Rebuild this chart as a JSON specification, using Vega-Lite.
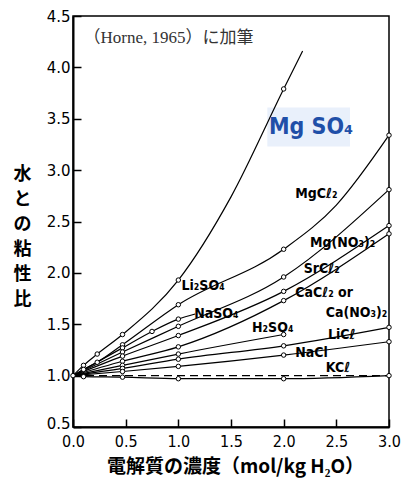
{
  "$schema": "https://vega.github.io/schema/vega-lite/v6.json",
  "width": 316,
  "height": 411,
  "autosize": "none",
  "padding": {"left": 73, "top": 16, "right": 26, "bottom": 56},
  "background": "white",
  "config": {
    "view": {"stroke": "black", "strokeWidth": 1.5},
    "axis": {"grid": false}
  },
  "datasets": {
    "curves": [
      {"series": "MgSO4", "x": 0, "y": 1.0, "pt": true},
      {"series": "MgSO4", "x": 0.1, "y": 1.10, "pt": true},
      {"series": "MgSO4", "x": 0.23, "y": 1.21, "pt": true},
      {"series": "MgSO4", "x": 0.47, "y": 1.40, "pt": true},
      {"series": "MgSO4", "x": 1.0, "y": 1.93, "pt": true},
      {"series": "MgSO4", "x": 1.5, "y": 2.74, "pt": false},
      {"series": "MgSO4", "x": 2.0, "y": 3.79, "pt": true},
      {"series": "MgSO4", "x": 2.18, "y": 4.16, "pt": false},
      {"series": "MgCl2", "x": 0, "y": 1.0, "pt": false},
      {"series": "MgCl2", "x": 0.1, "y": 1.06, "pt": true},
      {"series": "MgCl2", "x": 0.23, "y": 1.13, "pt": true},
      {"series": "MgCl2", "x": 0.47, "y": 1.30, "pt": true},
      {"series": "MgCl2", "x": 1.0, "y": 1.69, "pt": true},
      {"series": "MgCl2", "x": 2.0, "y": 2.23, "pt": true},
      {"series": "MgCl2", "x": 2.5, "y": 2.66, "pt": false},
      {"series": "MgCl2", "x": 3.0, "y": 3.34, "pt": true},
      {"series": "Na2SO4", "x": 0, "y": 1.0, "pt": false},
      {"series": "Na2SO4", "x": 0.47, "y": 1.27, "pt": true},
      {"series": "Na2SO4", "x": 0.75, "y": 1.43, "pt": true},
      {"series": "Na2SO4", "x": 1.0, "y": 1.55, "pt": true},
      {"series": "Na2SO4", "x": 1.16, "y": 1.60, "pt": false},
      {"series": "MgNO32", "x": 0, "y": 1.0, "pt": false},
      {"series": "MgNO32", "x": 0.47, "y": 1.23, "pt": true},
      {"series": "MgNO32", "x": 1.0, "y": 1.48, "pt": true},
      {"series": "MgNO32", "x": 2.0, "y": 1.96, "pt": true},
      {"series": "MgNO32", "x": 3.0, "y": 2.81, "pt": true},
      {"series": "SrCl2", "x": 0, "y": 1.0, "pt": false},
      {"series": "SrCl2", "x": 0.47, "y": 1.19, "pt": true},
      {"series": "SrCl2", "x": 1.0, "y": 1.39, "pt": true},
      {"series": "SrCl2", "x": 2.0, "y": 1.82, "pt": true},
      {"series": "SrCl2", "x": 3.0, "y": 2.46, "pt": true},
      {"series": "CaCl2", "x": 0, "y": 1.0, "pt": false},
      {"series": "CaCl2", "x": 0.47, "y": 1.14, "pt": true},
      {"series": "CaCl2", "x": 1.0, "y": 1.28, "pt": true},
      {"series": "CaCl2", "x": 2.0, "y": 1.73, "pt": true},
      {"series": "CaCl2", "x": 3.0, "y": 2.38, "pt": true},
      {"series": "H2SO4", "x": 0, "y": 1.0, "pt": false},
      {"series": "H2SO4", "x": 0.47, "y": 1.10, "pt": true},
      {"series": "H2SO4", "x": 1.0, "y": 1.21, "pt": true},
      {"series": "H2SO4", "x": 2.0, "y": 1.40, "pt": true},
      {"series": "LiCl", "x": 0, "y": 1.0, "pt": false},
      {"series": "LiCl", "x": 0.47, "y": 1.07, "pt": true},
      {"series": "LiCl", "x": 1.0, "y": 1.16, "pt": true},
      {"series": "LiCl", "x": 2.0, "y": 1.29, "pt": true},
      {"series": "LiCl", "x": 3.0, "y": 1.47, "pt": true},
      {"series": "NaCl", "x": 0, "y": 1.0, "pt": false},
      {"series": "NaCl", "x": 0.47, "y": 1.04, "pt": true},
      {"series": "NaCl", "x": 1.0, "y": 1.09, "pt": true},
      {"series": "NaCl", "x": 2.0, "y": 1.20, "pt": true},
      {"series": "NaCl", "x": 3.0, "y": 1.33, "pt": true},
      {"series": "KCl", "x": 0, "y": 1.0, "pt": false},
      {"series": "KCl", "x": 0.1, "y": 0.99, "pt": true},
      {"series": "KCl", "x": 0.47, "y": 0.985, "pt": true},
      {"series": "KCl", "x": 1.0, "y": 0.97, "pt": true},
      {"series": "KCl", "x": 2.0, "y": 0.97, "pt": true},
      {"series": "KCl", "x": 3.0, "y": 1.0, "pt": true}
    ],
    "water": [
      {"x": 0, "y": 1.0},
      {"x": 3.0, "y": 1.0}
    ],
    "labels": [
      {"label": "Li₂SO₄", "x": 1.03, "y": 1.87},
      {"label": "NaSO₄", "x": 1.15, "y": 1.60},
      {"label": "H₂SO₄", "x": 1.70, "y": 1.46},
      {"label": "LiCℓ", "x": 2.42, "y": 1.40},
      {"label": "NaCl", "x": 2.11, "y": 1.225},
      {"label": "KCℓ", "x": 2.40, "y": 1.07},
      {"label": "MgCℓ₂", "x": 2.11, "y": 2.77},
      {"label": "Mg(NO₃)₂", "x": 2.25, "y": 2.29},
      {"label": "SrCℓ₂", "x": 2.19, "y": 2.04},
      {"label": "CaCℓ₂ or", "x": 2.11, "y": 1.80},
      {"label": "Ca(NO₃)₂", "x": 2.40, "y": 1.61}
    ],
    "tag": [
      {"x": 1.845, "x2": 2.63, "y": 3.23, "y2": 3.61}
    ],
    "blue": [
      {"label": "Mg SO₄", "x": 1.86, "y": 3.42}
    ],
    "note": [
      {"label": "（Horne, 1965）に加筆", "x": 0.1, "y": 4.29}
    ]
  },
  "encoding": {
    "x": {
      "field": "x",
      "type": "quantitative",
      "scale": {"domain": [0, 3], "nice": false, "zero": false},
      "axis": {
        "values": [0, 0.5, 1, 1.5, 2, 2.5, 3],
        "format": ".1f",
        "tickSize": -8,
        "tickColor": "black",
        "tickWidth": 1.5,
        "domainColor": "black",
        "domainWidth": 2,
        "labelFont": "DejaVu Sans Condensed, Liberation Sans Narrow, DejaVu Sans",
        "labelFontSize": 16,
        "labelColor": "black",
        "labelPadding": 14,
        "labelFlush": false,
        "labelOverlap": false,
        "title": "電解質の濃度（mol/kg H₂O）",
        "titleFont": "Noto Sans CJK JP",
        "titleFontSize": 19,
        "titleFontWeight": "bold",
        "titleColor": "black",
        "titleX": 162,
        "titleY": 39,
        "titleAlign": "center",
        "titleBaseline": "middle"
      }
    },
    "y": {
      "field": "y",
      "type": "quantitative",
      "scale": {"domain": [0.5, 4.5], "nice": false, "zero": false},
      "axis": {
        "values": [0.5, 1, 1.5, 2, 2.5, 3, 3.5, 4, 4.5],
        "format": ".1f",
        "tickSize": -8,
        "tickColor": "black",
        "tickWidth": 1.5,
        "domainColor": "black",
        "domainWidth": 2,
        "labelFont": "DejaVu Sans",
        "labelFontSize": 15,
        "labelColor": "black",
        "labelPadding": 11,
        "labelFlush": false,
        "labelOverlap": false,
        "labelOffset": {"condition": {"test": "datum.value == 0.5", "value": -4}, "value": 0},
        "title": ["水", "と", "の", "粘", "性", "比"],
        "titleFont": "Noto Sans CJK JP",
        "titleFontSize": 18,
        "titleFontWeight": "bold",
        "titleColor": "black",
        "titleAngle": 0,
        "titleX": -51,
        "titleY": 158,
        "titleAlign": "center",
        "titleBaseline": "middle",
        "titleLineHeight": 25
      }
    }
  },
  "layer": [
    {
      "data": {"name": "tag"},
      "mark": {"type": "rect", "color": "#e9f0fb"},
      "encoding": {
        "x2": {"field": "x2"},
        "y2": {"field": "y2"}
      }
    },
    {
      "data": {"name": "water"},
      "mark": {"type": "line", "color": "black", "strokeWidth": 1.2, "strokeDash": [8, 5]},
      "encoding": {}
    },
    {
      "data": {"name": "curves"},
      "mark": {"type": "line", "interpolate": "monotone", "color": "black", "strokeWidth": 1.2},
      "encoding": {
        "detail": {"field": "series"},
        "order": {"field": "x", "type": "quantitative"}
      }
    },
    {
      "data": {"name": "curves"},
      "transform": [{"filter": "datum.pt"}],
      "mark": {"type": "point", "shape": "circle", "filled": true, "fill": "white", "stroke": "black", "strokeWidth": 1, "size": 20, "opacity": 1}
    },
    {
      "data": {"name": "labels"},
      "mark": {"type": "text", "align": "left", "baseline": "middle", "font": "DejaVu Sans Condensed, Liberation Sans Narrow, DejaVu Sans", "fontSize": 14, "fontWeight": "bold", "color": "black"},
      "encoding": {"text": {"field": "label"}}
    },
    {
      "data": {"name": "blue"},
      "mark": {"type": "text", "align": "left", "baseline": "middle", "font": "DejaVu Sans Condensed, Liberation Sans Narrow, DejaVu Sans", "fontSize": 23, "fontWeight": "bold", "color": "#1f4fa8"},
      "encoding": {"text": {"field": "label"}}
    },
    {
      "data": {"name": "note"},
      "mark": {"type": "text", "align": "left", "baseline": "middle", "font": "Liberation Serif, Noto Sans CJK JP", "fontSize": 17, "color": "#333333"},
      "encoding": {"text": {"field": "label"}}
    }
  ]
}
